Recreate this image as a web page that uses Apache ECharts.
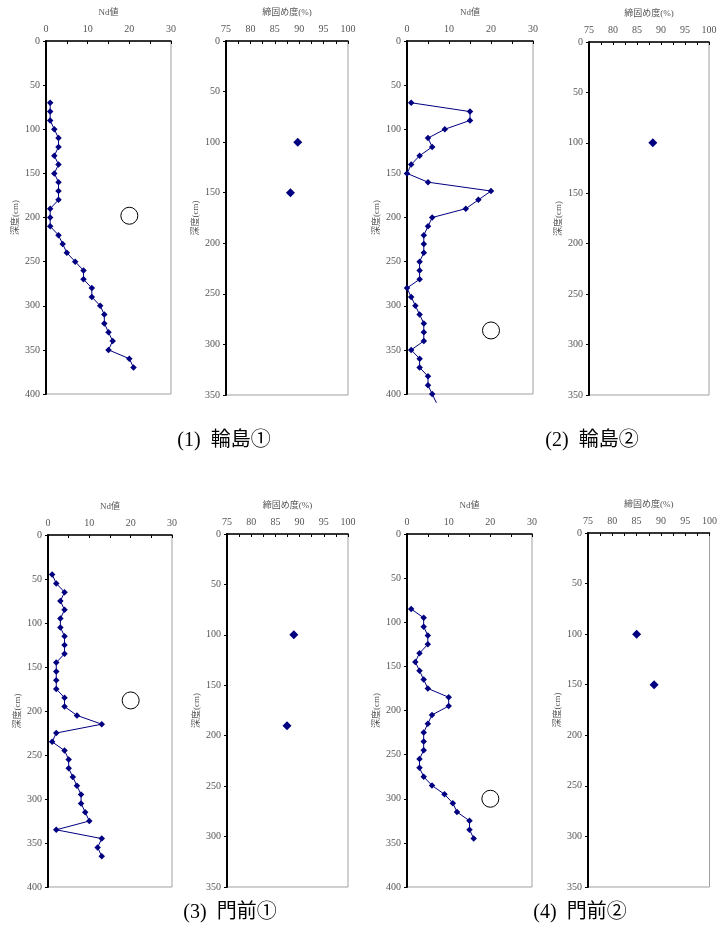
<!DOCTYPE html>
<html>
<head>
<meta charset="utf-8">
<script src="https://cdn.jsdelivr.net/npm/echarts@6/dist/echarts.min.js"></script>
<style>
  html, body { margin: 0; padding: 0; background: #fff; }
  #main { width: 720px; height: 952px; }
</style>
</head>
<body>
<div id="main"></div>
<script>
// 深度 (cm)
const depth1 = [70, 80, 90, 100, 110, 120, 130, 140, 150, 160, 170, 180, 190, 200, 210, 220, 230, 240, 250, 260, 270, 280, 290, 300, 310, 320, 330, 340, 350, 360, 370];
const nd1 = [1, 1, 1, 2, 3, 3, 2, 3, 2, 3, 3, 3, 1, 1, 1, 3, 4, 5, 7, 9, 9, 11, 11, 13, 14, 14, 15, 16, 15, 20, 21];
const depth2 = [70, 80, 90, 100, 110, 120, 130, 140, 150, 160, 170, 180, 190, 200, 210, 220, 230, 240, 250, 260, 270, 280, 290, 300, 310, 320, 330, 340, 350, 360, 370, 380, 390, 400];
const nd2 = [1, 15, 15, 9, 5, 6, 3, 1, 0, 5, 20, 17, 14, 6, 5, 4, 4, 4, 3, 3, 3, 0, 1, 2, 3, 4, 4, 4, 1, 3, 3, 5, 5, 6];
const depth3 = [45, 55, 65, 75, 85, 95, 105, 115, 125, 135, 145, 155, 165, 175, 185, 195, 205, 215, 225, 235, 245, 255, 265, 275, 285, 295, 305, 315, 325, 335, 345, 355, 365];
const nd3 = [1, 2, 4, 3, 4, 3, 3, 4, 4, 4, 2, 2, 2, 2, 4, 4, 7, 13, 2, 1, 4, 5, 5, 6, 7, 8, 8, 9, 10, 2, 13, 12, 13];
const depth4 = [85, 95, 105, 115, 125, 135, 145, 155, 165, 175, 185, 195, 205, 215, 225, 235, 245, 255, 265, 275, 285, 295, 305, 315, 325, 335, 345];
const nd4 = [1, 4, 4, 5, 5, 3, 2, 3, 4, 5, 10, 10, 6, 5, 4, 4, 4, 3, 3, 4, 6, 9, 11, 12, 15, 15, 16];

// 輪島② の線は 400cm より下へ続く
const tail2 = [7, 410];

// ○ 印 (Nd値, 深度)
const circles = [[20, 198], [20, 328], [20, 188], [20, 300]];

// 締固め度 (%) と深度
const compDepth1 = [100, 150];
const comp1 = [89.7, 88.2];
const compDepth2 = [100];
const comp2 = [88.3];
const compDepth3 = [100, 190];
const comp3 = [88.8, 87.4];
const compDepth4 = [100, 150];
const comp4 = [85, 88.6];

const titles = ['(1)  輪島①', '(2)  輪島②', '(3)  門前①', '(4)  門前②'];

const ndDepths = [depth1, depth2, depth3, depth4];
const ndValues = [nd1, nd2, nd3, nd4];
const compDepths = [compDepth1, compDepth2, compDepth3, compDepth4];
const compValues = [comp1, comp2, comp3, comp4];

const FONT = '"Liberation Serif", "DejaVu Serif", "Noto Sans CJK JP", serif';
const NAVY = '#000080';

// グリッド位置 [Nd, 締固め度] × 4
const boxes = [
  [[46, 41, 125, 353], [226, 41, 122, 354]],
  [[407, 41, 126, 353], [589, 42, 120, 353]],
  [[48, 535, 124, 352], [227, 534, 121, 353]],
  [[407, 534, 125, 353], [588, 533, 123, 354]]
];

const grids = [];
const xAxes = [];
const yAxes = [];
const series = [];

function addGrid(box) {
  grids.push({
    left: box[0], top: box[1], width: box[2], height: box[3],
    show: true, borderColor: '#a0a0a0', borderWidth: 1
  });
  return grids.length - 1;
}

function xAxis(gi, name, min, max, step) {
  xAxes.push({
    gridIndex: gi, type: 'value', position: 'top',
    min: min, max: max, interval: step,
    name: name, nameLocation: 'middle', nameGap: 24,
    nameTextStyle: { fontFamily: FONT, fontSize: 9, color: '#555' },
    axisLine: { show: true, lineStyle: { color: '#000', width: 1.5 } },
    axisTick: { show: true, inside: true, length: 3, lineStyle: { color: '#000' } },
    axisLabel: {
      fontFamily: FONT, fontSize: 10, color: '#555', margin: 7,
      formatter: v => (v % (step * 2) === 0 ? String(v) : '')
    },
    splitLine: { show: false }
  });
}

function yAxis(gi, max) {
  yAxes.push({
    gridIndex: gi, type: 'value', inverse: true,
    min: 0, max: max, interval: 50,
    name: '深度(cm)', nameLocation: 'middle', nameGap: 26, nameRotate: 90,
    nameTextStyle: { fontFamily: FONT, fontSize: 9, color: '#555' },
    axisLine: { show: true, lineStyle: { color: '#000', width: 2 } },
    axisTick: { show: true, inside: false, length: 3, lineStyle: { color: '#000' } },
    axisLabel: { fontFamily: FONT, fontSize: 10, color: '#555', margin: 6 },
    splitLine: { show: false }
  });
}

for (let i = 0; i < 4; i++) {
  // Nd値
  const g1 = addGrid(boxes[i][0]);
  xAxis(g1, 'Nd値', 0, 30, 5);
  yAxis(g1, 400);
  const pts = ndDepths[i].map((d, k) => [ndValues[i][k], d]);
  if (i === 1) pts.push({ value: tail2, symbol: 'none' });
  series.push({
    type: 'line', xAxisIndex: g1, yAxisIndex: g1,
    data: pts, clip: false,
    symbol: 'diamond', symbolSize: 6.5,
    lineStyle: { color: NAVY, width: 1 },
    itemStyle: { color: NAVY, opacity: 1 },
    z: 3
  });
  series.push({
    type: 'scatter', xAxisIndex: g1, yAxisIndex: g1,
    data: [circles[i]],
    symbol: 'circle', symbolSize: 17,
    itemStyle: { color: 'rgba(0,0,0,0)', borderColor: '#000', borderWidth: 1, opacity: 1 },
    z: 2
  });

  // 締固め度
  const g2 = addGrid(boxes[i][1]);
  xAxis(g2, '締固め度(%)', 75, 100, 2.5);
  yAxis(g2, 350);
  series.push({
    type: 'scatter', xAxisIndex: g2, yAxisIndex: g2,
    data: compDepths[i].map((d, k) => [compValues[i][k], d]),
    symbol: 'diamond', symbolSize: 9,
    itemStyle: { color: NAVY, opacity: 1 }
  });
}

const titlePos = [[224, 441], [592, 441], [230, 913], [580, 913]];

const chart = echarts.init(document.getElementById('main'), null, { renderer: 'canvas' });
chart.setOption({
  animation: false,
  backgroundColor: '#fff',
  grid: grids,
  xAxis: xAxes,
  yAxis: yAxes,
  series: series,
  graphic: titles.map((t, i) => ({
    type: 'text',
    x: titlePos[i][0], y: titlePos[i][1],
    style: {
      text: t, fontFamily: FONT, fontSize: 20, fill: '#000',
      textAlign: 'center', textVerticalAlign: 'middle'
    }
  }))
});
</script>
</body>
</html>
